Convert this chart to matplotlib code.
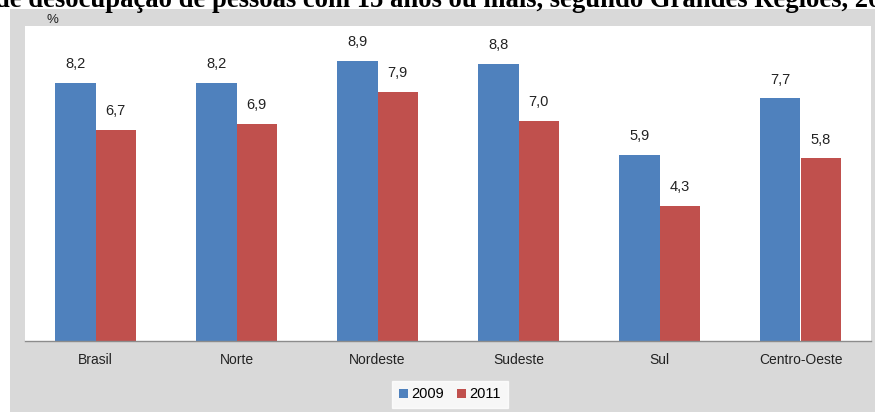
import matplotlib
matplotlib.use("Agg")
import matplotlib.pyplot as plt
import numpy as np
from matplotlib.patches import Rectangle

categories = ["Brasil", "Norte", "Nordeste", "Sudeste", "Sul", "Centro-Oeste"]
series_names = ["2009", "2011"]
values_2009 = [8.2, 8.2, 8.9, 8.8, 5.9, 7.7]
values_2011 = [6.7, 6.9, 7.9, 7.0, 4.3, 5.8]
title = "Taxa de desocupação de pessoas com 15 anos ou mais, segundo Grandes Regiões, 2009/2011"

W, H = 875, 412
fig = plt.figure(figsize=(W / 100, H / 100), dpi=100)
fig.patch.set_facecolor("white")

# gray chart panel
fig.add_artist(Rectangle((10 / W, 0), (W - 10) / W, (H - 9) / H,
                         transform=fig.transFigure, facecolor="#d9d9d9",
                         edgecolor="none", zorder=0))

ax = fig.add_axes([25 / W, (H - 341) / H, 846 / W, 315 / H])
ax.set_facecolor("white")
ax.set_zorder(1)

x = np.arange(len(categories))
bw = 0.284
blue = "#4f81bd"
red = "#c0504d"
b1 = ax.bar(x - bw / 2, values_2009, bw, color=blue, label=series_names[0])
b2 = ax.bar(x + bw / 2, values_2011, bw, color=red, label=series_names[1])

for bars, vals in ((b1, values_2009), (b2, values_2011)):
    for rect, v in zip(bars, vals):
        ax.annotate(f"{v:.1f}".replace(".", ","),
                    (rect.get_x() + rect.get_width() / 2, rect.get_height()),
                    xytext=(0, 13.5), textcoords="offset points",
                    ha="center", va="center", fontsize=10.5,
                    family="Liberation Sans", color="#222222")

ax.set_xlim(-0.5, len(categories) - 0.5)
ax.set_ylim(0, 10)
ax.set_yticks([])
ax.set_xticks(x)
ax.set_xticklabels(categories, family="Liberation Sans", fontsize=10, color="#222222")
ax.tick_params(axis="x", length=0, pad=9)
for s in ["top", "left", "right"]:
    ax.spines[s].set_visible(False)
ax.spines["bottom"].set_color("#8c8c8c")
ax.spines["bottom"].set_linewidth(1.0)

fig.text(52 / W, (H - 20) / H, "%", ha="center", va="center",
         fontsize=9.5, family="Liberation Sans", color="#222222")

leg = fig.legend(handles=[b1, b2], labels=series_names, loc="center",
                 bbox_to_anchor=(450 / W, (H - 394.5) / H), ncol=2,
                 frameon=True, fancybox=False, handlelength=0.6, handleheight=0.6,
                 handletextpad=0.25, columnspacing=0.9, borderpad=0.45,
                 borderaxespad=0.0,
                 prop={"family": "Liberation Sans", "size": 10.5})
leg.get_frame().set_facecolor("white")
leg.get_frame().set_edgecolor("white")

# title (clipped by figure edges as in the reference)
r = fig.canvas.get_renderer()
probe = fig.text(0, 0, "de desocupação de pessoas com 15 anos ou mais, segundo Grandes Regiões, ",
                 fontsize=10, family="Liberation Serif", weight="bold")
w10 = probe.get_window_extent(renderer=r).width
probe.remove()
fs = 10 * 862 / w10
tmp = fig.text(0, 0, "Taxa ", fontsize=fs, family="Liberation Serif", weight="bold")
pw = tmp.get_window_extent(renderer=r).width
tmp.remove()
fig.text(-(pw + 5) / W, (H - 7) / H, title, ha="left", va="baseline", fontsize=fs,
         family="Liberation Serif", weight="bold")

fig.savefig("out.png", dpi=100)
